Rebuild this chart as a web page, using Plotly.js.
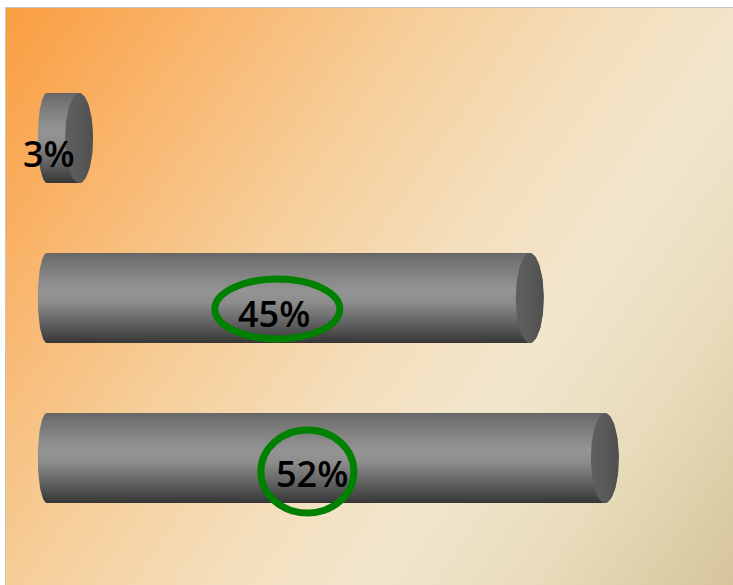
<!DOCTYPE html>
<html>
<head>
<meta charset="utf-8">
<script src="https://cdn.plot.ly/plotly-3.0.1.min.js"></script>
<style>
  html, body { margin: 0; padding: 0; background: #ffffff; }
  #wrap { position: relative; width: 733px; height: 585px; overflow: hidden; }
  #bg {
    position: absolute; left: 5px; top: 7px; right: 0; bottom: 0;
    border-top: 1px solid #c9c4bd; border-left: 1px solid #c9c4bd;
    background: linear-gradient(125deg, #fa9d40 0%, #f9b56c 18%, #f6cd97 36%, #f4dfbd 55%, #f1e6cd 68%, #e9dcbc 82%, #d6c59b 100%);
  }
  #chart { position: absolute; left: 0; top: 0; width: 733px; height: 585px; }
</style>
</head>
<body>
<div id="wrap">
  <div id="bg"></div>
  <div id="chart"></div>
</div>
<script>
// ---- data ----
const categories = ['Category 1', 'Category 2', 'Category 3'];
const values = [3, 45, 52];
const labels = ['3%', '45%', '52%'];
const highlighted = [false, true, true];

// ---- styling / geometry (in axis units) ----
const BAR_HALF = 0.281;   // half bar thickness (category units)
const LEFT_RX = 0.85;     // horizontal radius of left rounded end (% units)
const CAP_RX = 1.3;       // horizontal radius of right cap ellipse (% units)
const N = 40;
const bodyScale = [[0, '#666666'], [0.1, '#747474'], [0.42, '#959595'], [0.55, '#8c8c8c'], [0.75, '#676767'], [0.9, '#4a4a4a'], [1, '#363636']];
const ringStyle = {
  1: {dx: -11, dy: -11, rx: 62.5, ry: 30},
  2: {dx: -18.5, dy: -13.5, rx: 46.5, ry: 41.5}
};

const traces = [];
const annotations = [];
const shapes = [];

categories.forEach(function (cat, i) {
  const v = values[i];
  // body: left half-ellipse, bottom edge, right half-ellipse, top edge
  const bx = [], by = [];
  for (let k = 0; k <= N; k++) {
    const t = Math.PI / 2 + Math.PI * k / N;
    bx.push(LEFT_RX * Math.cos(t));
    by.push(i - BAR_HALF * Math.sin(t));
  }
  for (let k = 0; k <= N; k++) {
    const t = -Math.PI / 2 + Math.PI * k / N;
    bx.push(v + CAP_RX * Math.cos(t));
    by.push(i - BAR_HALF * Math.sin(t));
  }
  bx.push(bx[0]); by.push(by[0]);
  traces.push({
    type: 'scatter', mode: 'lines', x: bx, y: by, name: cat,
    fill: 'toself', line: {width: 0, color: 'rgba(0,0,0,0)'},
    fillgradient: {type: 'vertical', start: i - BAR_HALF, stop: i + BAR_HALF, colorscale: bodyScale},
    hoverinfo: 'skip', showlegend: false
  });
  // right cap
  const cx = [], cy = [];
  for (let k = 0; k <= 2 * N; k++) {
    const t = 2 * Math.PI * k / (2 * N);
    cx.push(v + CAP_RX * Math.cos(t));
    cy.push(i + BAR_HALF * Math.sin(t));
  }
  traces.push({
    type: 'scatter', mode: 'lines', x: cx, y: cy, name: cat + ' cap',
    fill: 'toself', line: {width: 0, color: 'rgba(0,0,0,0)'},
    fillgradient: {type: 'horizontal', start: v - CAP_RX, stop: v + CAP_RX,
      colorscale: [[0, '#5f5f5f'], [0.6, '#585858'], [1, '#4e4e4e']]},
    hoverinfo: 'skip', showlegend: false
  });
  annotations.push({
    x: v / 2, y: i, xref: 'x', yref: 'y', text: labels[i], showarrow: false,
    xshift: -14, yshift: -15,
    font: {family: 'Open Sans, Liberation Sans, sans-serif', size: 36, weight: 600, color: '#000000'}
  });
  if (highlighted[i] && ringStyle[i]) {
    const r = ringStyle[i];
    shapes.push({
      type: 'circle', xref: 'x', yref: 'y', xsizemode: 'pixel', ysizemode: 'pixel',
      xanchor: v / 2, yanchor: i,
      x0: r.dx - r.rx, x1: r.dx + r.rx, y0: r.dy - r.ry, y1: r.dy + r.ry,
      line: {color: '#008000', width: 7}, fillcolor: 'rgba(0,0,0,0)', layer: 'above'
    });
  }
});

const layout = {
  width: 733, height: 585,
  margin: {l: 34, r: 0, t: 58, b: 47, pad: 0},
  paper_bgcolor: 'rgba(0,0,0,0)', plot_bgcolor: 'rgba(0,0,0,0)',
  xaxis: {range: [-1.2, 63.94], visible: false, fixedrange: true},
  yaxis: {range: [2.5, -0.5], visible: false, fixedrange: true},
  annotations: annotations, shapes: shapes, showlegend: false
};

Plotly.newPlot('chart', traces, layout, {staticPlot: true, displayModeBar: false});
</script>
</body>
</html>
